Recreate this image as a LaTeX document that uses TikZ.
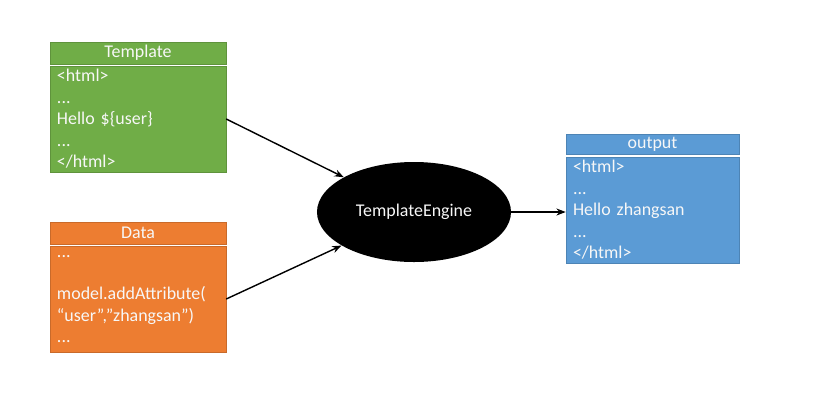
\documentclass[tikz,border=0pt]{standalone}
\usepackage{fontspec}
\setmainfont{Carlito}
\usepackage{tikz}
\usetikzlibrary{arrows.meta, shapes.geometric}

\definecolor{tgreen}{RGB}{112,173,71}
\definecolor{dorange}{RGB}{237,125,49}
\definecolor{oblue}{RGB}{91,155,213}

\tikzset{
	txt/.style={font=\fontsize{15.3}{18.3}\selectfont, text=white!94!gray},
	hdr/.style={txt, minimum width=5.28cm, minimum height=0.66cm, inner sep=0pt, draw=#1!85!black, fill=#1, line width=0.4pt},
	body/.style={txt, minimum width=5.28cm, minimum height=3.18cm, inner xsep=0.21cm, inner ysep=0pt,
		text width=4.86cm, align=left, draw=#1!85!black, fill=#1, line width=0.4pt},
	conn/.style={-{Stealth[length=8pt,width=6pt]}, line width=1.2pt}
}

\begin{document}
\begin{tikzpicture}[x=0.03cm,y=-0.03cm]
		\useasboundingbox (0,0) rectangle (833,407);
		% template
		\node[hdr=tgreen] (tplhead) at (138,53) {Template};
		\node[body=tgreen] (tplbody) at (138,119) {<html>\\...\\Hello \$\{user\}\\...\\</html>};
		% data
		\node[hdr=dorange] (datahead) at (138,233) {Data};
		\node[body=dorange] (databody) at (138,299) {...\\\mbox{}\\model.addAttribute(\\“user”,”zhangsan”)\\...};
		% output
		\node[hdr=oblue, minimum width=5.19cm, minimum height=0.6cm] (outhead) at (652.5,144) {output};
		\node[body=oblue, minimum width=5.19cm, text width=4.77cm] (outbody) at (652.5,210) {<html>\\...\\Hello zhangsan\\...\\</html>};
		% engine
		\node[ellipse, fill=black, minimum width=5.82cm, minimum height=3cm, inner sep=0pt, txt] (engine) at (414,212) {TemplateEngine};
		\draw[conn] (tplbody.east) -- (engine);
		\draw[conn] (databody.east) -- (engine);
		\draw[conn] (engine.east) -- (engine.east -| outbody.west);
	\end{tikzpicture}
\end{document}
